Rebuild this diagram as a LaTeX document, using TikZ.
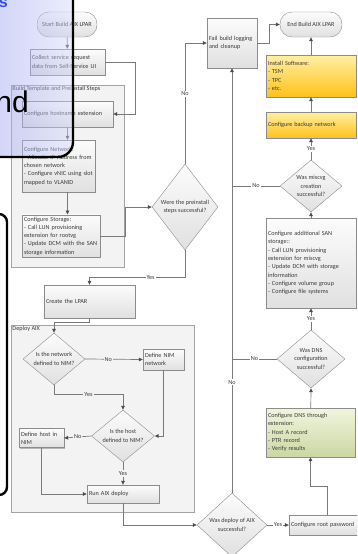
\documentclass[tikz,border=0pt]{standalone}
\usepackage{fontspec}
\setmainfont{Carlito}
\newfontfamily\overlayfont{Liberation Sans}
\usetikzlibrary{arrows.meta,shapes.geometric,shadows}

\definecolor{edgegray}{HTML}{8C8C8C}
\definecolor{linkgray}{HTML}{7A7A7A}
\definecolor{txtgray}{HTML}{3A3A3A}
\definecolor{grpfill}{HTML}{F3F3F3}
\definecolor{boxtop}{HTML}{FCFCFC}
\definecolor{boxbot}{HTML}{E0E0E0}
\definecolor{yeltop}{HTML}{FFEFA6}
\definecolor{yelbot}{HTML}{FFC21A}
\definecolor{grntop}{HTML}{F1F5DF}
\definecolor{grnbot}{HTML}{CBD7A3}
\definecolor{panelleft}{HTML}{9096EE}
\definecolor{panelright}{HTML}{D6D9FB}
\definecolor{capblue}{HTML}{2F4FE0}

\tikzset{
  shadowed/.style={drop shadow={shadow xshift=1.2pt, shadow yshift=-1.2pt, opacity=.25, fill=black}},
  procbox/.style={draw=edgegray, top color=boxtop, bottom color=boxbot, text=txtgray, align=left, inner sep=2pt, shadowed},
  yelbox/.style={procbox, top color=yeltop, bottom color=yelbot},
  grnbox/.style={procbox, top color=grntop, bottom color=grnbot},
  termbox/.style={draw=edgegray, top color=boxtop, bottom color=boxbot, text=txtgray, rounded corners=12pt, minimum height=25pt, inner sep=1pt},
  decision/.style={diamond, draw=edgegray, top color=boxtop, bottom color=boxbot, text=txtgray, align=center, inner sep=0pt},
  groupbox/.style={draw=edgegray!80, fill=grpfill, shadowed},
  grptitle/.style={anchor=north west, inner sep=1.5pt, text=txtgray},
  link/.style={draw=linkgray, line width=0.7pt, -{Triangle[length=4pt,width=3.6pt,color=black!70]}},
  joint/.style={draw=linkgray, line width=0.7pt},
  lbl/.style={fill=white, text=txtgray, inner sep=1pt},
}

\begin{document}
\begin{tikzpicture}[x=1pt, y=-1pt, every node/.append style={font=\fontsize{6.2}{8.3}\selectfont}]
\useasboundingbox (0,0) rectangle (357,554);
\clip (0,0) rectangle (357,554);
\fill[white] (0,0) rectangle (357,554);

% Groups
\node[groupbox, minimum width=113pt, minimum height=182pt, label={[grptitle]north west:Build Template and Preinstall Steps}] (grpbuild) at (67.5,176) {};
\node[groupbox, minimum width=183pt, minimum height=187pt, label={[grptitle]north west:Deploy AIX}] (grpdeploy) at (102.5,418.5) {};

% Left column: request and preinstall
\node[termbox, minimum width=60pt] (start) at (67,24.5) {Start Build AIX LPAR};
\node[procbox, text width=71pt, minimum height=26pt] (collect) at (67.5,62) {Collect service request\\data from Self-Service UI};
\node[procbox, text width=87pt, minimum height=26pt] (hostname) at (67.5,114) {Configure hostname extension};
\node[procbox, text width=69pt, minimum height=52pt] (network) at (58.5,166) {Configure Network:\\- Allocate IP Address from\\chosen network\\- Configure vNIC using slot\\mapped to VLANID};
\node[procbox, text width=74pt, minimum height=42pt] (storage) at (61,236) {Configure Storage:\\- Call LUN provisioning\\extension for rootvg\\- Update DCM with the SAN\\storage information};
\node[decision, minimum width=66pt, minimum height=86pt, shape aspect=0.77] (predia) at (185,207) {Were the preinstall\\steps successful?};

% Create and deploy
\node[procbox, text width=87pt, minimum height=33pt] (create) at (89.5,301.5) {Create the LPAR};
\node[decision, minimum width=62pt, minimum height=52pt, shape aspect=1.19] (netdia) at (54,359) {Is the network\\defined to NIM?};
\node[procbox, text width=37pt, minimum height=21pt] (nimnet) at (163.5,359.5) {Define NIM\\network};
\node[decision, minimum width=63pt, minimum height=52pt, shape aspect=1.2] (hostdia) at (123,436) {Is the host\\defined to NIM?};
\node[procbox, text width=41pt, minimum height=19pt] (nimhost) at (41.5,438) {Define host in\\NIM};
\node[procbox, text width=68pt, minimum height=18pt] (run) at (123,494) {Run AIX deploy};
\node[decision, minimum width=70pt, minimum height=64pt, shape aspect=1.09] (depdia) at (232,525) {Was deploy of AIX\\successful?};

% Right column: postinstall
\node[procbox, text width=46pt, minimum height=50pt] (fail) at (232,43) {Fail build logging\\and cleanup};
\node[termbox, minimum width=62pt] (endn) at (311,24.5) {End Build AIX LPAR};
\node[yelbox, text width=86pt, minimum height=42pt] (install) at (311,76) {Install Software:\\- TSM\\- TPC\\- etc.};
\node[yelbox, text width=86pt, minimum height=26pt] (backup) at (311,125) {Configure backup network};
\node[decision, minimum width=62pt, minimum height=52pt, shape aspect=1.2] (miscdia) at (311,186) {Was miscvg\\creation\\successful?};
\node[procbox, text width=86pt, minimum height=90pt] (sanadd) at (311,263) {Configure additional SAN\\storage::\\- Call LUN provisioning\\extension for miscvg\\- Update DCM with storage\\information\\- Configure volume group\\- Configure file systems};
\node[decision, minimum width=68pt, minimum height=58pt, shape aspect=1.17] (dnsdia) at (311,359) {Was DNS\\configuration\\successful?};
\node[grnbox, text width=85pt, minimum height=49pt] (dnsbox) at (310.5,432.5) {Configure DNS through\\extension:\\- Host A record\\- PTR record\\- Verify results};
\node[procbox, text width=72pt, minimum height=20pt] (rootpw) at (327,525) {Configure root password};

% Connectors, left column
\draw[link] (start) -- (collect);
\draw[link] (collect.east) -- ++(30,0) |- (hostname.east);
\draw[link] (hostname.south) -- (hostname.south |- network.north);
\draw[link] (hostname.south |- network.south) -- (hostname.south |- storage.north);
\draw[link] (storage.east) -- ++(25,0) |- (predia.west);
\draw[link] (predia.north) |- node[lbl, pos=0.29] {No} (fail.west);
\draw[link] (predia.south) -- ++(0,27) -| node[lbl, pos=0.18] {Yes} (create.north);

% Connectors, deploy
\draw[link] (create.south) -- ++(0,4) -| (netdia.north);
\draw[link] (netdia.east) -- node[lbl, fill=grpfill, pos=0.4] {No} (nimnet.west);
\draw[link] (netdia.south) -- ++(0,9) -| node[lbl, fill=grpfill, pos=0.25] {Yes} (hostdia.north);
\draw[link] (nimnet.south) |- (hostdia.east);
\draw[link] (hostdia.west) -- node[lbl, fill=grpfill] {No} (nimhost.east);
\draw[link] (hostdia.south) -- node[lbl, fill=grpfill] {Yes} (run.north);
\draw[link] (nimhost.south) |- (run.west);
\draw[link] (run.south) |- (depdia.west);

% Connectors, right column
\draw[link] (depdia.north) -- node[lbl, pos=0.26] {No} (fail.south);
\draw[link] (depdia.east) -- node[lbl] {Yes} (rootpw.west);
\draw[link] (fail.east) -- ++(12,0) |- (endn.west);
\draw[link] (install) -- (endn);
\draw[link] (backup) -- (install);
\draw[link] (miscdia.north) -- node[lbl] {Yes} (backup.south);
\draw[joint] (miscdia.west) -- node[lbl] {No} (miscdia.west -| fail.south);
\draw[link] (sanadd) -- (miscdia.south);
\draw[link] (dnsdia.north) -- node[lbl] {Yes} (sanadd.south);
\draw[joint] (dnsdia.west) -- node[lbl] {No} (dnsdia.west -| fail.south);
\draw[link] (dnsbox) -- (dnsdia.south);
\draw[link] (rootpw.north) -- ++(0,-28) -| (dnsbox.south);

% Overlay window, top left
\shade[left color=panelleft, right color=panelright, fill opacity=0.45, rounded corners=15pt] (-20,-20) -- (73,-20) -- (73,157) -- (-20,157) -- cycle;
\draw[line width=2.4pt, rounded corners=15pt] (73,-20) -- (73,157) -- (-20,157);
\node[font=\overlayfont\fontsize{30}{30}\selectfont, anchor=base east, inner sep=0pt] (ndtext) at (29,112) {nd};
\node[font=\overlayfont\bfseries\fontsize{16}{16}\selectfont, text=capblue, anchor=base east, inner sep=0pt] (stext) at (8,8) {s};

% Overlay window, left edge
\draw[line width=2.4pt, rounded corners=8pt] (-20,214) -- (7,214) -- (7,495) -- (-20,495);

\end{tikzpicture}
\end{document}
